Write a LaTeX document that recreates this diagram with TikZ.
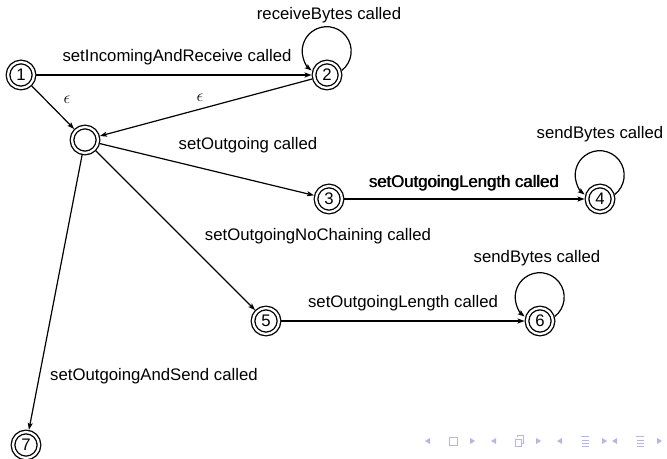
\documentclass[tikz,border=0pt]{standalone}
\usepackage{fontspec}
\setmainfont{Liberation Sans}
\usetikzlibrary{arrows.meta}
\definecolor{navc}{RGB}{180,184,224}
\begin{document}
\begin{tikzpicture}[x=1bp,y=1bp,
  state/.style={circle,draw,line width=1.3bp,double,double distance=2.3bp,minimum size=26bp,inner sep=0pt,outer sep=2.45bp,font=\fontsize{16.8}{20}\selectfont},
  edge/.style={line width=1.2bp,-{Stealth[length=7bp,width=5bp,inset=1.5bp]}},
  lbl/.style={font=\fontsize{16.8}{20}\selectfont,inner sep=0pt},
  eps/.style={font=\fontsize{16}{18}\selectfont,inner sep=0pt},
  navtri/.style={fill=navc,draw=none},
  navln/.style={draw=navc,line width=1bp}]
\path[use as bounding box] (0,0) rectangle (667,-459);

% states
\node[state] (n1) at (21,-75) {1};
\node[state] (n2) at (327,-75) {2};
\node[state] (b)  at (85,-140) {};
\node[state] (n3) at (329,-199) {3};
\node[state] (n4) at (600,-199) {4};
\node[state] (n5) at (266,-321) {5};
\node[state] (n6) at (540,-321) {6};
\node[state] (n7) at (26,-445) {7};

% transitions
\draw[edge] (n1) -- (n2);
\draw[edge] (n1) -- (b);
\draw[edge] (n2) -- (b);
\draw[edge] (b) -- (n3);
\draw[edge] (b) -- (n5);
\draw[edge] (b) -- (n7);
\draw[edge,line width=1.7bp] (n3) -- (n4);
\draw[edge] (n5) -- (n6);

% loops
\draw[edge] (n2.17) arc[start angle=-52, end angle=232, radius=24.5];
\draw[edge] (n4.17) arc[start angle=-52, end angle=232, radius=24.5];
\draw[edge] (n6.17) arc[start angle=-52, end angle=232, radius=24.5];

% labels
\node[lbl] (l12) at (177,-57) {setIncomingAndReceive called};
\node[lbl] (l22) at (329,-15) {receiveBytes called};
\node[eps] (e1) at (67,-100) {$\epsilon$};
\node[eps] (e2) at (200,-98) {$\epsilon$};
\node[lbl] (lb3) at (248,-145) {setOutgoing called};
\node[lbl] (l34) at (464,-183) {\rlap{setOutgoingLength called}\hspace{0.6bp}setOutgoingLength called};
\node[lbl] (l44) at (600,-134) {sendBytes called};
\node[lbl] (lb5) at (318,-236) {setOutgoingNoChaining called};
\node[lbl] (l56) at (403,-303) {setOutgoingLength called};
\node[lbl] (l66) at (537,-258) {sendBytes called};
\node[lbl,anchor=west] (lb7) at (50,-376) {setOutgoingAndSend called};

% beamer navigation symbols
\foreach \cx in {453,519,585,640}{
  \fill[navtri] (\cx-28,-441) -- (\cx-23,-438) -- (\cx-23,-444) -- cycle;
  \fill[navtri] (\cx+22,-441) -- (\cx+17,-438) -- (\cx+17,-444) -- cycle;
}
\draw[navln] (449,-437) rectangle (457,-445);
\draw[navln] (515,-439) rectangle (521,-446);
\draw[navln] (517,-437) -- (517,-435) -- (523,-435) -- (523,-443) -- (521,-443);
\foreach \cx in {585,640}{
  \draw[navln] (\cx-4,-436) -- (\cx+4,-436);
  \draw[navln] (\cx-3,-440) -- (\cx+4,-440);
  \draw[navln] (\cx-3,-443) -- (\cx+4,-443);
  \draw[navln] (\cx-3,-446) -- (\cx+4,-446);
}
\end{tikzpicture}
\end{document}
